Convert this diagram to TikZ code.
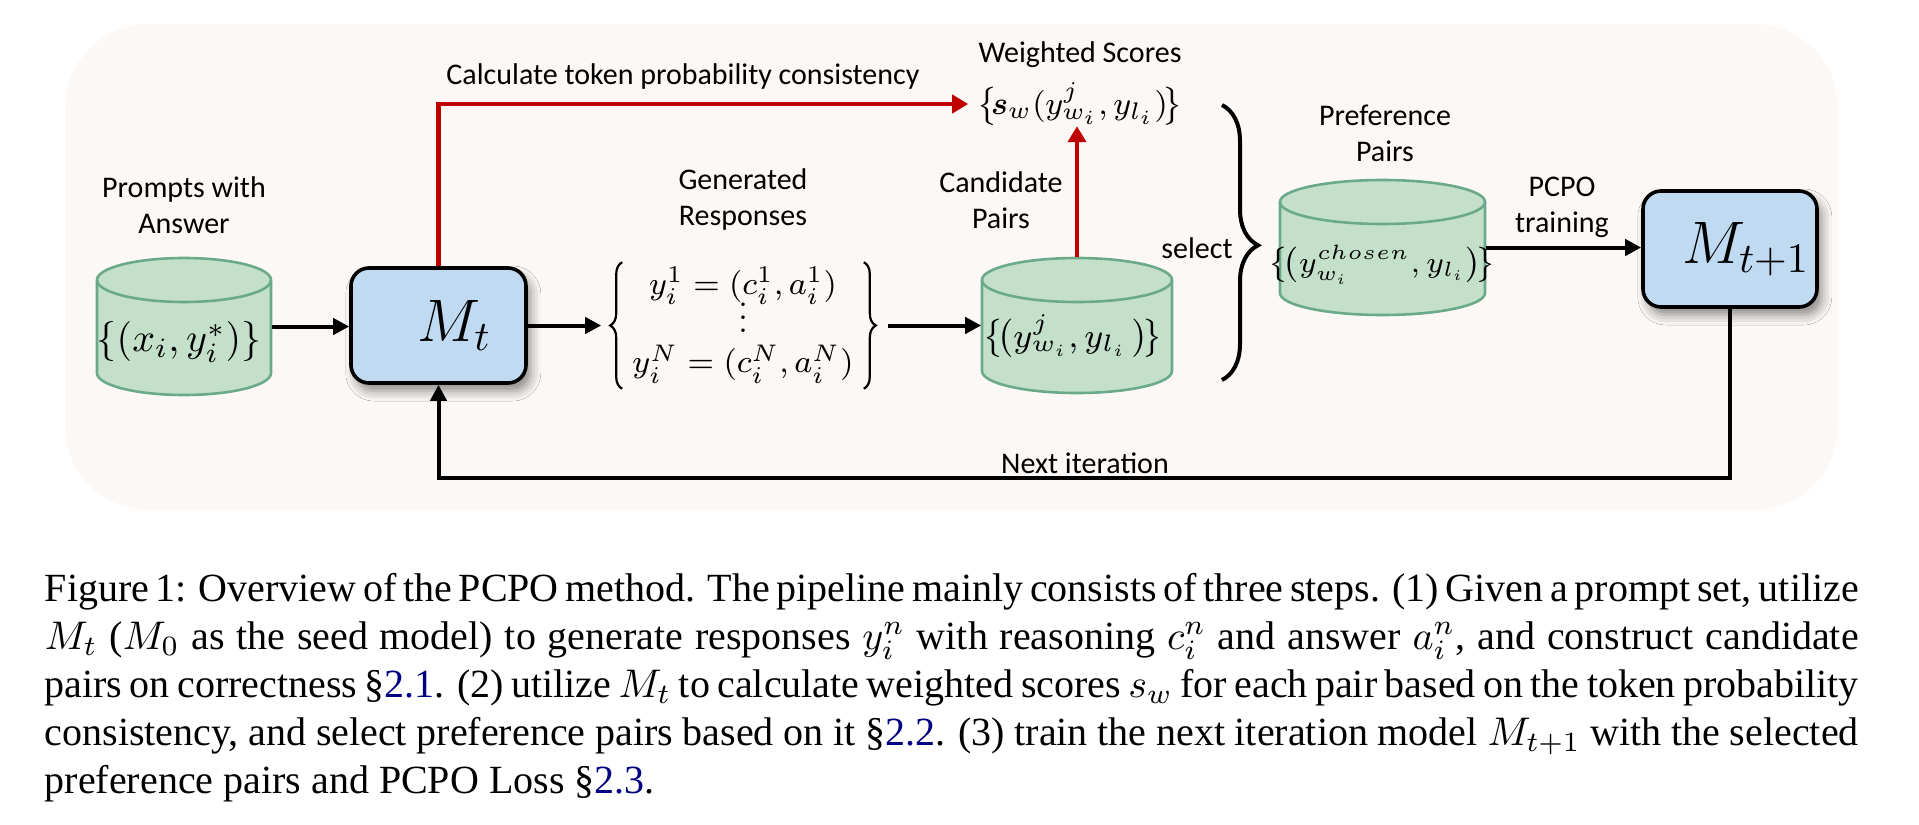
\documentclass[tikz,border=0pt]{standalone}
\usepackage{fix-cm}
\usepackage{amsmath,bm}
\usepackage[no-math]{fontspec}
\newfontfamily\diagfont{Carlito}
\newfontfamily\figcapfont{Liberation Serif}
\usetikzlibrary{arrows.meta,decorations.pathreplacing,shadows.blur}
\definecolor{bgcol}{RGB}{252,248,245}
\definecolor{cylfill}{RGB}{196,224,203}
\definecolor{cylline}{RGB}{106,170,138}
\definecolor{boxfill}{RGB}{192,218,242}
\definecolor{myred}{RGB}{192,0,0}
\definecolor{linkblue}{RGB}{0,0,128}
\newcommand\tinyvdots{\vbox{\baselineskip3.2pt\lineskiplimit0pt\hbox{.}\hbox{.}\hbox{.}}}
\newcommand\lnk[1]{\textcolor{linkblue}{#1}}
\newcommand\dbcyl[5]{% name, cx, top, bottom, rx
  \fill[cylfill] ({#2-#5},{-#3-22}) -- ({#2-#5},{-#4+22}) arc[start angle=180,end angle=360,x radius=#5,y radius=22] -- ({#2+#5},{-#3-22}) arc[start angle=0,end angle=180,x radius=#5,y radius=22] -- cycle;
  \draw[cylborder] ({#2-#5},{-#3-22}) -- ({#2-#5},{-#4+22}) arc[start angle=180,end angle=360,x radius=#5,y radius=22] -- ({#2+#5},{-#3-22});
  \draw[cylborder] (#2,{-#3-22}) ellipse[x radius=#5,y radius=22];
  \node[inner sep=0pt,minimum width={#5*0.5pt},minimum height={(#4-#3)*0.25pt}] (#1) at (#2,{-(#3+#4)/2}) {};
}
\tikzset{
  cylborder/.style={draw=cylline,line width=0.65pt},
  model/.style={draw=black,fill=boxfill,line width=0.9pt,rounded corners=4.5pt,inner sep=0pt,
    font=\fontsize{15}{17}\selectfont,
    blur shadow={shadow xshift=1.2pt,shadow yshift=-2pt,shadow blur radius=2.5pt,shadow opacity=45}},
  lbl/.style={font=\diagfont\fontsize{7.5}{9}\selectfont,align=center,inner sep=0pt},
  mth/.style={font=\fontsize{8.5}{10.2}\selectfont,inner sep=0pt},
  thinbrace/.style={line width=0.55pt,decorate,decoration={brace,amplitude=3pt}},
  arr/.style={line width=1pt,-{Triangle[length=4pt,width=4pt]}},
  redarr/.style={line width=1.2pt,draw=myred,-{Triangle[length=4pt,width=4.5pt]}},
  capline/.style={anchor=base west,inner sep=0pt,font=\figcapfont\fontsize{10}{12}\selectfont},
}
\begin{document}
\begin{tikzpicture}[x=0.25pt,y=0.25pt]
\useasboundingbox (0,0) rectangle (1919,-825);
\fill[bgcol,rounded corners=21pt] (65,-24) rectangle (1838,-510);

% cylinders
\dbcyl{c1}{184}{258}{395}{87}
\dbcyl{c2}{1077}{258}{393}{95}
\dbcyl{c3}{1382.5}{180}{315}{102.5}
\node[mth,font=\fontsize{10}{12}\selectfont] (c1t) at (179,-342) {$\{(x_i, y_i^*)\}$};
\node[mth] (c2t) at (1073,-337) {$\big\{\!\big(y^j_{w_i}, y_{l_i}\,\big)\!\big\}$};
\node[mth,font=\fontsize{7.4}{9}\selectfont] (c3t) at (1382,-265) {$\big\{\!\big(y^{chosen}_{w_i}, y_{l_i}\big)\!\big\}$};

% model boxes
\node[model,minimum width=43.75pt,minimum height=28.75pt] (mt) at (438.5,-325.5) {\hspace*{8pt}$M_t$};
\node[model,minimum width=43.5pt,minimum height=29pt] (mt1) at (1730,-249) {\hspace*{8pt}$M_{t+1}$};

% responses
\node[mth,font=\fontsize{8}{9.6}\selectfont,minimum width=66pt,minimum height=31.25pt] (resp) at (743,-325.5) {$\setlength\arraycolsep{0pt}\def\arraystretch{0.95}\begin{array}{c} y_i^1 = (c_i^1, a_i^1)\\[-0.5pt] \tinyvdots \\[0.5pt] y_i^N = (c_i^N, a_i^N)\end{array}$};
\draw[thinbrace] ([xshift=3pt]resp.south west) -- ([xshift=3pt]resp.north west);
\draw[thinbrace] ([xshift=-3pt]resp.north east) -- ([xshift=-3pt]resp.south east);

% weighted scores
\node[mth,font=\fontsize{8}{9.6}\selectfont] (ws) at (1079.5,-104) {$\big\{\!\bm{s}_w(y^j_{w_i}, y_{l_i})\!\big\}$};

% labels
\node[lbl] (l1) at (184,-205) {Prompts with\\Answer};
\node[lbl] (l2) at (683,-76) {Calculate token probability consistency};
\node[lbl] (l3) at (1080,-55) {Weighted Scores};
\node[lbl] (l4) at (743,-199) {Generated\\Responses};
\node[lbl] (l5) at (1001,-200) {Candidate\\Pairs};
\node[lbl] (l6) at (1197,-248) {select};
\node[lbl] (l7) at (1385,-133) {Preference\\Pairs};
\node[lbl] (l8) at (1562,-207) {PCPO\\training};
\node[lbl] (l9) at (1085,-463) {Next iteration};

% connectors
\draw[arr] (c1.east) -- (c1.east -| mt.west);
\draw[arr,shorten >=2.25pt] (mt.east) -- (resp.west);
\draw[arr,shorten <=3pt] (resp.east) -- (c2.west);
\draw[arr] (c3.east) -- (c3.east -| mt1.west);
\draw[redarr,shorten >=2pt] (mt.north) |- (ws.west);
\draw[redarr] (c2.north) -- (c2.north |- ws.south);
\coordinate (fb) at (1730,-478);
\draw[arr] (mt1.south) -- (fb) -| (mt.south);

% brace
\coordinate (bt) at (1222,-105);
\coordinate (bb) at (1222,-380);
\draw[line width=1pt,decorate,decoration={brace,amplitude=9pt,aspect=0.51}] (bt) -- (bb);

% caption
\node[capline] (cap1) at (44,-601) {\makebox[453.5pt][s]{Figure 1: Overview of the PCPO method. The pipeline mainly consists of three steps. (1) Given a prompt set, utilize}};
\node[capline] (cap2) at (44,-649) {\makebox[453.5pt][s]{$M_t$ ($M_0$ as the seed model) to generate responses $y_i^n$ with reasoning $c_i^n$ and answer $a_i^n$, and construct candidate}};
\node[capline] (cap3) at (44,-697) {\makebox[453.5pt][s]{pairs on correctness §\lnk{2.1}. (2) utilize $M_t$ to calculate weighted scores $s_w$ for each pair based on the token probability}};
\node[capline] (cap4) at (44,-745) {\makebox[453.5pt][s]{consistency, and select preference pairs based on it §\lnk{2.2}. (3) train the next iteration model $M_{t+1}$ with the selected}};
\node[capline] (cap5) at (44,-793) {preference pairs and PCPO Loss §\lnk{2.3}.};
\end{tikzpicture}
\end{document}
